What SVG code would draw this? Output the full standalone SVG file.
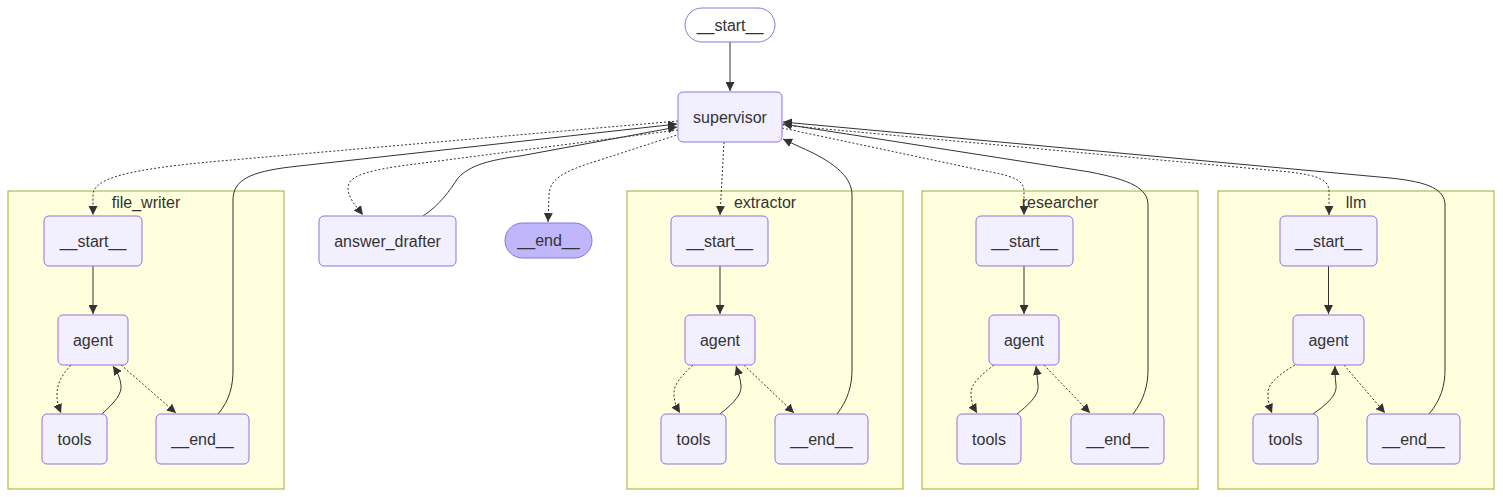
<svg xmlns="http://www.w3.org/2000/svg" width="1503" height="497" viewBox="0 0 1503 497">
<style>
.cluster{fill:#ffffde;stroke:#aaaa33;stroke-width:1}
.node{fill:#f2f0ff;stroke:#9370db;stroke-width:1}
.first{fill:#ffffff;stroke:#9370db;stroke-width:1}
.last{fill:#bfb6fc;stroke:#9370db;stroke-width:1}
text{font-family:"Liberation Sans",Arial,sans-serif;font-size:16px;fill:#333333;text-anchor:middle;dominant-baseline:central}
.e{fill:none;stroke:#333333;stroke-width:1;marker-end:url(#arr)}
.d{stroke-dasharray:2 2}
</style>
<defs>
<marker id="arr" viewBox="0 0 10 10" refX="10" refY="5" markerWidth="9" markerHeight="9" markerUnits="userSpaceOnUse" orient="auto">
<path d="M0,0 L10,5 L0,10 z" fill="#333333"/>
</marker>
</defs>
<g id="clusters">
<g id="cluster-file_writer"><rect class="cluster" x="8" y="191" width="276" height="298"/><text x="146" y="202">file_writer</text></g>
<g id="cluster-extractor"><rect class="cluster" x="627" y="191" width="276" height="298"/><text x="765" y="202">extractor</text></g>
<g id="cluster-researcher"><rect class="cluster" x="922" y="191" width="276" height="298"/><text x="1060" y="202">researcher</text></g>
<g id="cluster-llm"><rect class="cluster" x="1218" y="191" width="276" height="298"/><text x="1356" y="202">llm</text></g>
</g>
<g id="connectors">
<path class="e" d="M730,42 L730,91"/>
<path class="e d" d="M678,121 L220,161 C130,169 93,178 93,195 L93,215"/>
<path class="e" d="M218,414 C230,400 233,385 233,370 L233,200 C233,180 250,172 290,167 L677,124"/>
<path class="e d" d="M678,130 L400,166 C360,172 348,178 348,188 C348,198 356,206 363,215"/>
<path class="e" d="M423,216 C440,205 450,190 458,178 C470,165 490,160 520,156 L677,127"/>
<path class="e d" d="M680,134 L600,160 C560,172 550,180 549,195 L548,222"/>
<path class="e d" d="M724,142 L720,215"/>
<path class="e" d="M837,414 C848,400 852,385 852,370 L852,195 C852,175 830,160 800,147 L783,139"/>
<path class="e d" d="M782,128 L980,170 C1015,176 1024,180 1024,192 L1024,215"/>
<path class="e" d="M1133,414 C1144,400 1148,385 1148,370 L1148,205 C1148,188 1130,180 1090,172 L783,124"/>
<path class="e d" d="M782,125 L1290,172 C1320,176 1329,180 1329,192 L1329,215"/>
<path class="e" d="M1429,414 C1441,400 1445,385 1445,370 L1445,205 C1445,190 1430,182 1390,178 L783,122"/>
<path class="e" d="M93,266 L93,314"/>
<path class="e d" d="M71,365 C60,377 57,385 57,395 C57,403 59,408 61,413"/>
<path class="e" d="M102,414 C115,402 122,394 121,385 C120,377 117,372 113,366"/>
<path class="e d" d="M121,365 L176,413"/>
<path class="e" d="M720,266 L720,314"/>
<path class="e d" d="M693,365 C680,377 674,385 674,393 C674,403 677,408 680,413"/>
<path class="e" d="M720,414 C735,402 742,394 741,385 C740,377 738,372 736,366"/>
<path class="e d" d="M744,365 L794,413"/>
<path class="e" d="M1024,266 L1024,314"/>
<path class="e d" d="M994,365 C978,377 971,385 971,393 C971,403 974,408 977,413"/>
<path class="e" d="M1017,414 C1032,402 1039,394 1038,385 C1037,377 1037,372 1036,366"/>
<path class="e d" d="M1044,365 L1090,413"/>
<path class="e" d="M1328.5,266 L1328.5,314"/>
<path class="e d" d="M1295,365 C1275,377 1268,385 1268,393 C1268,403 1270,408 1272,413"/>
<path class="e" d="M1313,414 C1330,402 1337,394 1336,385 C1335,377 1335,372 1335,366"/>
<path class="e d" d="M1344,365 L1385,413"/>
</g>
<g id="start"><rect class="first" x="685" y="8" width="90" height="34" rx="17"/><text x="730" y="25">__start__</text></g>
<g id="supervisor"><rect class="node" x="678" y="92" width="104" height="50" rx="5"/><text x="730" y="117">supervisor</text></g>
<g id="answer_drafter"><rect class="node" x="319" y="216" width="137" height="50" rx="5"/><text x="387.5" y="241">answer_drafter</text></g>
<g id="end"><rect class="last" x="505" y="223" width="87" height="35" rx="17.5"/><text x="548.5" y="240.5">__end__</text></g>
<g id="file_writer-start"><rect class="node" x="44" y="216" width="98" height="50" rx="5"/><text x="93" y="241">__start__</text></g>
<g id="file_writer-agent"><rect class="node" x="58" y="315" width="70" height="50" rx="5"/><text x="93" y="340">agent</text></g>
<g id="file_writer-tools"><rect class="node" x="42" y="414" width="65" height="50" rx="5"/><text x="74.5" y="439">tools</text></g>
<g id="file_writer-end"><rect class="node" x="156" y="414" width="93" height="50" rx="5"/><text x="202.5" y="439">__end__</text></g>
<g id="extractor-start"><rect class="node" x="671" y="216" width="97" height="50" rx="5"/><text x="719.5" y="241">__start__</text></g>
<g id="extractor-agent"><rect class="node" x="685" y="315" width="70" height="50" rx="5"/><text x="720" y="340">agent</text></g>
<g id="extractor-tools"><rect class="node" x="661" y="414" width="65" height="50" rx="5"/><text x="693.5" y="439">tools</text></g>
<g id="extractor-end"><rect class="node" x="775" y="414" width="93" height="50" rx="5"/><text x="821.5" y="439">__end__</text></g>
<g id="researcher-start"><rect class="node" x="976" y="216" width="97" height="50" rx="5"/><text x="1024.5" y="241">__start__</text></g>
<g id="researcher-agent"><rect class="node" x="989" y="315" width="70" height="50" rx="5"/><text x="1024" y="340">agent</text></g>
<g id="researcher-tools"><rect class="node" x="957" y="414" width="64" height="50" rx="5"/><text x="989" y="439">tools</text></g>
<g id="researcher-end"><rect class="node" x="1071" y="414" width="93" height="50" rx="5"/><text x="1117.5" y="439">__end__</text></g>
<g id="llm-start"><rect class="node" x="1280" y="216" width="97" height="50" rx="5"/><text x="1328.5" y="241">__start__</text></g>
<g id="llm-agent"><rect class="node" x="1293" y="315" width="71" height="50" rx="5"/><text x="1328.5" y="340">agent</text></g>
<g id="llm-tools"><rect class="node" x="1253" y="414" width="65" height="50" rx="5"/><text x="1285.5" y="439">tools</text></g>
<g id="llm-end"><rect class="node" x="1367" y="414" width="93" height="50" rx="5"/><text x="1413.5" y="439">__end__</text></g>
</svg>
